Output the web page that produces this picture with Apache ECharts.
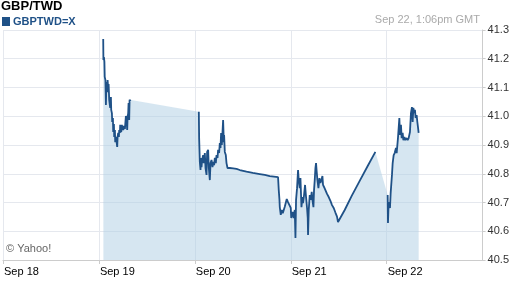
<!DOCTYPE html>
<html>
<head>
<meta charset="utf-8">
<script src="https://cdn.jsdelivr.net/npm/echarts@6/dist/echarts.min.js"></script>
<style>
html,body{margin:0;padding:0;background:#fff;}
#c{width:512px;height:288px;}
</style>
</head>
<body>
<div id="c"></div>
<script>
// hours since Sep 18 00:00, GBP/TWD rate
const seg1 = [
[25.075,41.269],[25.125,41.196],[25.25,41.206],[25.375,41.189],[25.45,41.137],[25.625,41.126],
[25.75,41.039],[25.875,41.119],[26.075,41.084],[26.175,41.126],[26.325,41.091],[26.425,41.112],
[26.575,41.057],[26.75,41.063],[26.825,41.029],[27.0,41.067],[27.075,41.022],[27.25,41.011],
[27.325,40.980],[27.5,40.994],[27.575,40.945],[27.75,40.973],[27.825,40.928],[28.0,40.952],
[28.075,40.910],[28.25,40.928],[28.425,40.910],[28.575,40.893],[28.675,40.928],[28.825,40.942],
[29.0,40.928],[29.075,40.952],[29.25,40.942],[29.325,40.970],[29.5,40.959],[29.575,40.945],
[29.75,40.970],[29.825,40.963],[30.075,40.952],[30.25,40.966],[30.5,40.956],[30.75,41.001],
[30.925,40.987],[31.075,40.952],[31.175,40.997],[31.325,41.011],[31.425,41.046],[31.575,40.987],
[31.675,41.057],[31.825,41.057],[31.925,41.053]
];
const seg2 = [
[49.0,41.016],[49.075,40.924],[49.25,40.841],[49.425,40.813],[49.5,40.855],[49.675,40.823],
[49.825,40.848],[50.075,40.865],[50.25,40.837],[50.5,40.872],[50.675,40.820],[50.925,40.796],
[51.075,40.876],[51.325,40.883],[51.5,40.820],[51.75,40.778],[51.925,40.837],[52.175,40.848],
[52.425,40.823],[52.575,40.841],[52.825,40.830],[53.0,40.855],[53.25,40.837],[53.425,40.865],
[53.675,40.855],[53.825,40.883],[54.075,40.872],[54.25,40.907],[54.425,40.890],[54.575,40.942],
[54.75,40.900],[54.925,40.945],[55.075,40.987],[55.25,40.910],[55.325,40.935],[55.5,40.876],
[55.75,40.865],[55.925,40.837],[56.175,40.820],[56.75,40.820],[57.575,40.819],[58.425,40.817],
[59.25,40.813],[60.925,40.807],[62.5,40.803],[64.25,40.799],[65.5,40.796],[66.75,40.792],
[68.825,40.788],[69.0,40.743],[69.175,40.709],[69.25,40.685],[69.5,40.657],[69.75,40.674],
[70.0,40.663],[70.25,40.674],[70.5,40.685],[70.75,40.691],[71.0,40.712],[71.25,40.703],
[72.0,40.681],[72.125,40.646],[72.5,40.667],[72.75,40.646],[73.0,40.674],[73.175,40.577],
[73.325,40.709],[73.575,40.750],[73.825,40.813],[74.0,40.778],[74.25,40.750],[74.425,40.785],
[74.675,40.684],[74.925,40.719],[75.075,40.698],[75.325,40.726],[75.575,40.761],[75.825,40.719],
[76.075,40.681],[76.25,40.646],[76.325,40.587],[76.5,40.674],[76.75,40.726],[77.0,40.709],
[77.25,40.737],[77.425,40.709],[77.675,40.684],[77.825,40.743],[78.0,40.778],[78.175,40.820],
[78.325,40.837],[78.5,40.806],[78.675,40.778],[78.925,40.750],[79.175,40.785],[79.425,40.768],
[79.675,40.778],[79.925,40.792],[80.075,40.761],[80.325,40.754],[80.675,40.743],[81.075,40.730],
[81.5,40.719],[81.925,40.706],[82.325,40.691],[82.75,40.681],[83.175,40.665],[83.575,40.651],
[83.825,40.632],[85.5,40.674],[87.25,40.723],[89.25,40.775],[91.25,40.827],[93.175,40.876]
];
const seg3 = [
[96.25,40.726],[96.325,40.629],[96.5,40.702],[96.825,40.681],[97.0,40.733],[97.325,40.796],
[97.5,40.837],[97.75,40.865],[98.0,40.872],[98.325,40.890],[98.5,40.872],[98.825,40.924],
[99.0,40.959],[99.175,40.994],[99.325,40.935],[99.575,40.970],[99.75,40.924],[100.0,40.942],
[100.175,40.917],[100.425,40.928],[100.675,40.917],[101.0,40.924],[101.25,40.917],[101.5,40.924],
[101.825,40.945],[102.075,41.011],[102.325,41.032],[102.5,40.980],[102.675,41.029],[102.925,41.011],
[103.075,41.022],[103.25,40.994],[103.5,41.004],[103.675,40.980],[103.825,40.963],[104.0,40.942]
];
const dayLabels = ['Sep 18','Sep 19','Sep 20','Sep 21','Sep 22',''];
const yTicks = [40.5, 41.3, 0.1]; // min, max, step

const fillData = seg1.concat(seg2, seg3);
const lineData = seg1.concat([[40, null]], seg2, [[95, null]], seg3);

const FONT = 'Liberation Sans, Arial, sans-serif';
const chart = echarts.init(document.getElementById('c'), null, {renderer:'canvas'});
chart.setOption({
  animation: false,
  backgroundColor: '#fff',
  title: [
    {text:'GBP/TWD', left:1, top:0, padding:0,
     textStyle:{fontFamily:FONT, fontSize:13, fontWeight:'bold', color:'#000'}},
    {text:'Sep 22, 1:06pm GMT', right:32, top:14, padding:0,
     textStyle:{fontFamily:FONT, fontSize:11, fontWeight:'normal', color:'#aaa'}},
    {text:'© Yahoo!', left:6, top:243, padding:0,
     textStyle:{fontFamily:FONT, fontSize:11, fontWeight:'normal', color:'#666'}}
  ],
  legend: {
    data:['GBPTWD=X'], left:2, top:16, padding:0, icon:'rect', itemWidth:8, itemHeight:9,
    textStyle:{fontFamily:FONT, fontSize:11, fontWeight:'bold', color:'#1f5187', padding:[0,0,0,-2]}
  },
  grid: {left:3, right:29, top:30, bottom:28, containLabel:false},
  xAxis: {
    type:'value', min:0, max:120, interval:24,
    axisLine:{show:true, onZero:false, lineStyle:{color:'#ccc'}},
    axisTick:{show:true, length:4, lineStyle:{color:'#ccc'}},
    splitLine:{show:true, lineStyle:{color:'#e5e8ee'}},
    axisLabel:{fontFamily:FONT, fontSize:11, color:'#000', align:'left', margin:6,
      padding:[0,0,0,1], showMaxLabel:false,
      formatter: v => dayLabels[Math.round(v/24)]}
  },
  yAxis: {
    type:'value', position:'right', min:yTicks[0], max:yTicks[1], interval:yTicks[2],
    axisLine:{show:true, onZero:false, lineStyle:{color:'#ccc'}},
    axisTick:{show:true, length:3, lineStyle:{color:'#ccc'}},
    splitLine:{show:true, lineStyle:{color:'#e5e8ee'}},
    axisLabel:{fontFamily:FONT, fontSize:11, color:'#333', margin:5,
      formatter: v => v.toFixed(1)}
  },
  series: [
    {type:'line', name:'fill', data:fillData, showSymbol:false, symbol:'none',
     lineStyle:{width:0, opacity:0}, areaStyle:{color:'rgba(173,205,227,0.5)', opacity:1, origin:'start'},
     silent:true, z:1},
    {type:'line', name:'GBPTWD=X', data:lineData, showSymbol:false, symbol:'none',
     connectNulls:false, color:'#1f5187', itemStyle:{color:'#1f5187'},
     lineStyle:{width:1.8, color:'#1f5187'}, z:3}
  ]
});
</script>
</body>
</html>
